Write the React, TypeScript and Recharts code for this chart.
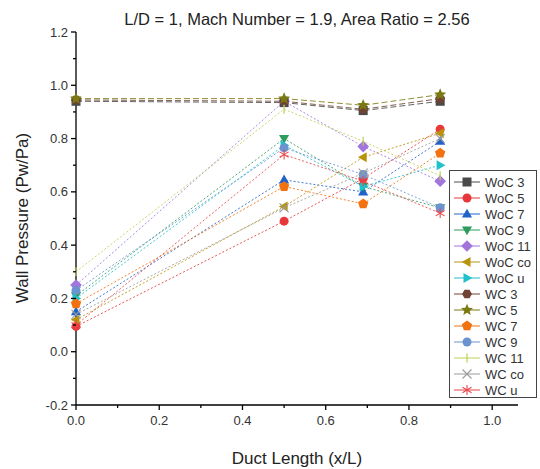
import React from "react";
import {
  LineChart,
  Line,
  XAxis,
  YAxis,
  Legend,
} from "recharts";

// x positions along the duct (x/L)
const xPos = [0, 0.5, 0.69, 0.875];

// wall pressure ratio (Pw/Pa), without / with control
const woc3 = [0.94, 0.935, 0.905, 0.94];
const woc5 = [0.095, 0.49, 0.65, 0.835];
const woc7 = [0.15, 0.645, 0.6, 0.79];
const woc9 = [0.21, 0.8, 0.62, 0.54];
const woc11 = [0.25, 0.94, 0.77, 0.64];
const wocCo = [0.12, 0.545, 0.73, 0.82];
const wocU = [0.2, 0.775, 0.62, 0.7];
const wc3 = [0.945, 0.94, 0.91, 0.95];
const wc5 = [0.95, 0.95, 0.925, 0.965];
const wc7 = [0.18, 0.62, 0.555, 0.745];
const wc9 = [0.23, 0.765, 0.665, 0.54];
const wc11 = [0.3, 0.91, 0.79, 0.66];
const wcCo = [0.14, 0.54, 0.67, 0.8];
const wcU = [0.1, 0.74, 0.64, 0.52];

const xTicks = [0, 0.1, 0.2, 0.3, 0.4, 0.5, 0.6, 0.7, 0.8, 0.9, 1.0];
const yTicks = [-0.2, -0.1, 0, 0.1, 0.2, 0.3, 0.4, 0.5, 0.6, 0.7, 0.8, 0.9, 1.0, 1.1, 1.2];

const FONT = '"Liberation Sans", Arial, sans-serif';

type Shape =
  | "square" | "circle" | "triUp" | "triDown" | "diamond" | "triLeft"
  | "triRight" | "hexagon" | "star" | "pentagon" | "vbar" | "cross" | "asterisk";

const series: { name: string; values: number[]; color: string; shape: Shape; dash: string }[] = [
  { name: "WoC 3", values: woc3, color: "#4a4a4a", shape: "square", dash: "6 3" },
  { name: "WoC 5", values: woc5, color: "#e8373a", shape: "circle", dash: "2 2" },
  { name: "WoC 7", values: woc7, color: "#2162c9", shape: "triUp", dash: "2 2" },
  { name: "WoC 9", values: woc9, color: "#2e9c5c", shape: "triDown", dash: "2 2" },
  { name: "WoC 11", values: woc11, color: "#a275dc", shape: "diamond", dash: "2 2" },
  { name: "WoC co", values: wocCo, color: "#b8930c", shape: "triLeft", dash: "2 2" },
  { name: "WoC u", values: wocU, color: "#1fc1cc", shape: "triRight", dash: "2 2" },
  { name: "WC 3", values: wc3, color: "#6f4233", shape: "hexagon", dash: "6 3" },
  { name: "WC 5", values: wc5, color: "#7b7a12", shape: "star", dash: "6 3" },
  { name: "WC 7", values: wc7, color: "#f2720f", shape: "pentagon", dash: "2 2" },
  { name: "WC 9", values: wc9, color: "#6b93cf", shape: "circle", dash: "2 2" },
  { name: "WC 11", values: wc11, color: "#bfcf55", shape: "vbar", dash: "2 2" },
  { name: "WC co", values: wcCo, color: "#9a9a9a", shape: "cross", dash: "2 2" },
  { name: "WC u", values: wcU, color: "#e8474a", shape: "asterisk", dash: "2 2" },
];

const data = xPos.map((x, i) => {
  const row: Record<string, number> = { x };
  series.forEach((s) => {
    row[s.name] = s.values[i];
  });
  return row;
});

function poly(cx: number, cy: number, r: number, n: number, rot: number) {
  const pts: string[] = [];
  for (let i = 0; i < n; i++) {
    const a = rot + (i * 2 * Math.PI) / n;
    pts.push(`${cx + r * Math.cos(a)},${cy + r * Math.sin(a)}`);
  }
  return pts.join(" ");
}

function starPts(cx: number, cy: number, r: number) {
  const pts: string[] = [];
  for (let i = 0; i < 10; i++) {
    const a = -Math.PI / 2 + (i * Math.PI) / 5;
    const rr = i % 2 === 0 ? r : r * 0.45;
    pts.push(`${cx + rr * Math.cos(a)},${cy + rr * Math.sin(a)}`);
  }
  return pts.join(" ");
}

function Marker({ shape, cx, cy, color, s = 4.5 }: { shape: Shape; cx: number; cy: number; color: string; s?: number }) {
  switch (shape) {
    case "square":
      return <rect x={cx - s} y={cy - s} width={2 * s} height={2 * s} fill={color} />;
    case "circle":
      return <circle cx={cx} cy={cy} r={s} fill={color} />;
    case "triUp":
      return <polygon points={poly(cx, cy + 0.6, s * 1.3, 3, -Math.PI / 2)} fill={color} />;
    case "triDown":
      return <polygon points={poly(cx, cy - 0.6, s * 1.3, 3, Math.PI / 2)} fill={color} />;
    case "triLeft":
      return <polygon points={poly(cx + 0.6, cy, s * 1.3, 3, Math.PI)} fill={color} />;
    case "triRight":
      return <polygon points={poly(cx - 0.6, cy, s * 1.3, 3, 0)} fill={color} />;
    case "diamond":
      return <polygon points={poly(cx, cy, s * 1.3, 4, -Math.PI / 2)} fill={color} />;
    case "hexagon":
      return <polygon points={poly(cx, cy, s * 1.1, 6, 0)} fill={color} />;
    case "pentagon":
      return <polygon points={poly(cx, cy, s * 1.2, 5, -Math.PI / 2)} fill={color} />;
    case "star":
      return <polygon points={starPts(cx, cy, s * 1.4)} fill={color} />;
    case "vbar":
      return <line x1={cx} x2={cx} y1={cy - s} y2={cy + s} stroke={color} strokeWidth={1.2} />;
    case "cross":
      return (
        <g stroke={color} strokeWidth={1.1}>
          <line x1={cx - s} y1={cy - s} x2={cx + s} y2={cy + s} />
          <line x1={cx - s} y1={cy + s} x2={cx + s} y2={cy - s} />
        </g>
      );
    case "asterisk":
      return (
        <g stroke={color} strokeWidth={1.1}>
          <line x1={cx - s} y1={cy - s * 0.6} x2={cx + s} y2={cy + s * 0.6} />
          <line x1={cx - s} y1={cy + s * 0.6} x2={cx + s} y2={cy - s * 0.6} />
          <line x1={cx} y1={cy - s * 1.1} x2={cx} y2={cy + s * 1.1} />
        </g>
      );
  }
  return null;
}

const isMajor = (v: number) => Math.round(v * 10) % 2 === 0;

const XTick = (props: any) => {
  const { x, y, payload } = props;
  const v = payload.value as number;
  const major = isMajor(v);
  return (
    <g>
      <line x1={x} x2={x} y1={y} y2={y + (major ? 5 : 3)} stroke="#000" strokeWidth={1.3} />
      {major && (
        <text x={x} y={y + 20} textAnchor="middle" fontSize={13} fill="#333" fontFamily={FONT}>
          {v.toFixed(1)}
        </text>
      )}
    </g>
  );
};

const YTick = (props: any) => {
  const { x, y, payload } = props;
  const v = payload.value as number;
  const major = isMajor(v);
  return (
    <g>
      <line x1={x} x2={x - (major ? 5 : 3)} y1={y} y2={y} stroke="#000" strokeWidth={1.3} />
      {major && (
        <text x={x - 8} y={y + 4.5} textAnchor="end" fontSize={13} fill="#333" fontFamily={FONT}>
          {v.toFixed(1)}
        </text>
      )}
    </g>
  );
};

const LegendBox = () => (
  <div
    style={{
      width: 88,
      height: 228,
      border: "1px solid #444",
      background: "#fff",
      boxSizing: "border-box",
    }}
  >
    <svg width={86} height={226}>
      {series.map((s, i) => {
        const cy = 11 + i * 16;
        return (
          <g key={s.name}>
            <line x1={4} x2={30} y1={cy} y2={cy} stroke={s.color} strokeWidth={1} />
            <Marker shape={s.shape} cx={17} cy={cy} color={s.color} />
            <text x={35} y={cy + 4.5} fontSize={13} fill="#333" fontFamily={FONT}>
              {s.name}
            </text>
          </g>
        );
      })}
    </svg>
  </div>
);

export default function App() {
  return (
    <div style={{ position: "absolute", left: 0, top: 0, width: 540, height: 469, background: "#fff" }}>
      <LineChart
        width={540}
        height={469}
        data={data}
        margin={{ top: 32, right: 22, left: 0, bottom: 0 }}
      >
        <XAxis
          dataKey="x"
          type="number"
          domain={[0, 1.062]}
          ticks={xTicks}
          interval={0}
          height={64}
          tickSize={0}
          tickMargin={0}
          tickLine={false}
          tick={<XTick />}
          axisLine={{ stroke: "#000", strokeWidth: 1.3 }}
        />
        <XAxis
          xAxisId="top"
          orientation="top"
          dataKey="x"
          type="number"
          domain={[0, 1.062]}
          height={0}
          tick={false}
          tickLine={false}
          axisLine={{ stroke: "#000", strokeWidth: 1.3 }}
        />
        <YAxis
          type="number"
          domain={[-0.2, 1.2]}
          ticks={yTicks}
          interval={0}
          width={76}
          tickSize={0}
          tickMargin={0}
          tickLine={false}
          tick={<YTick />}
          axisLine={{ stroke: "#000", strokeWidth: 1.3 }}
        />
        <YAxis
          yAxisId="right"
          orientation="right"
          type="number"
          domain={[-0.2, 1.2]}
          width={0}
          tick={false}
          tickLine={false}
          axisLine={{ stroke: "#000", strokeWidth: 1.3 }}
        />
        {series.map((s) => (
          <Line
            key={s.name}
            dataKey={s.name}
            stroke={s.color}
            strokeWidth={1}
            strokeDasharray={s.dash}
            strokeOpacity={0.85}
            isAnimationActive={false}
            dot={(p: any) => (
              <Marker key={`${s.name}-${p.index}`} shape={s.shape} cx={p.cx} cy={p.cy} color={s.color} />
            )}
            activeDot={false}
          />
        ))}
        <Legend
          layout="vertical"
          align="center"
          verticalAlign="middle"
          wrapperStyle={{ position: "absolute", left: 449, top: 170, width: 88, height: 228 }}
          content={() => <LegendBox />}
        />
        <text x={297} y={25} textAnchor="middle" fontSize={16.5} fill="#222" fontFamily={FONT}>
          L/D = 1, Mach Number = 1.9, Area Ratio = 2.56
        </text>
        <text x={297} y={464} textAnchor="middle" fontSize={17} fill="#222" fontFamily={FONT}>
          Duct Length (x/L)
        </text>
        <text
          x={28}
          y={218}
          textAnchor="middle"
          fontSize={17}
          fill="#222"
          fontFamily={FONT}
          transform="rotate(-90 28 218)"
        >
          Wall Pressure (Pw/Pa)
        </text>
      </LineChart>
    </div>
  );
}
